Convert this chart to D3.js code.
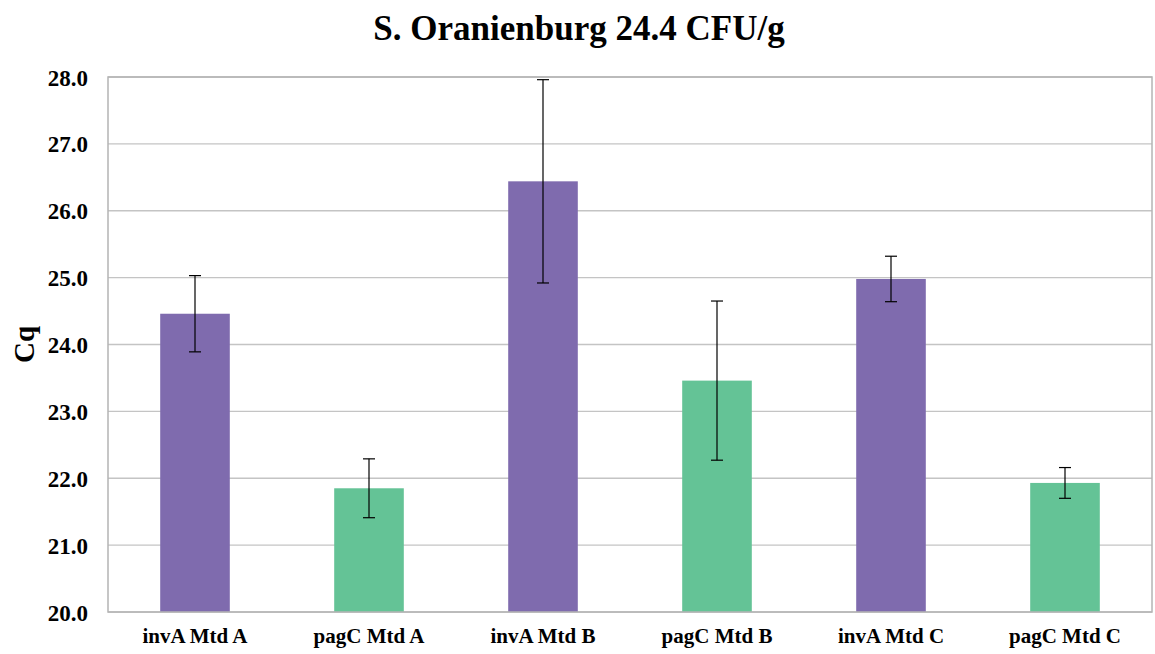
<!DOCTYPE html>
<html>
<head>
<meta charset="utf-8">
<script src="https://cdn.jsdelivr.net/npm/d3@7"></script>
<style>
  body { margin: 0; background: #fff; }
  text { font-family: "Liberation Serif", "Times New Roman", serif; font-weight: bold; fill: #000; }
</style>
</head>
<body>
<script>
const categories = ["invA Mtd A", "pagC Mtd A", "invA Mtd B", "pagC Mtd B", "invA Mtd C", "pagC Mtd C"];
const cqValues = [24.46, 21.85, 26.44, 23.46, 24.98, 21.93];
const cqErrors = [0.57, 0.44, 1.52, 1.19, 0.34, 0.23];
const yTicks = [20, 21, 22, 23, 24, 25, 26, 27, 28];
const barColors = ["#7F6BAE", "#64C396"];

const w = 1155, h = 654;
const margin = { left: 108, right: 3, top: 77, bottom: 42 };

const svg = d3.select("body").append("svg")
    .attr("width", w)
    .attr("height", h);

const xScale = d3.scaleBand()
    .domain(categories)
    .range([margin.left, w - margin.right])
    .paddingInner(0.6)
    .paddingOuter(0.3);

const yScale = d3.scaleLinear()
    .domain([20, 28])
    .range([h - margin.bottom, margin.top]);

// gridlines
svg.append("g")
    .selectAll("line")
    .data(yTicks)
    .enter()
    .append("line")
    .attr("x1", margin.left)
    .attr("x2", w - margin.right)
    .attr("y1", d => yScale(d))
    .attr("y2", d => yScale(d))
    .attr("stroke", "#c4c4c4")
    .attr("stroke-width", 1.3);

// bars
svg.append("g")
    .selectAll("rect")
    .data(cqValues)
    .enter()
    .append("rect")
    .attr("x", (d, i) => xScale(categories[i]))
    .attr("y", d => yScale(d))
    .attr("width", xScale.bandwidth())
    .attr("height", d => yScale(20) - yScale(d))
    .attr("fill", (d, i) => barColors[i % 2]);

// error bars
const err = svg.append("g")
    .selectAll("g")
    .data(cqValues)
    .enter()
    .append("g")
    .attr("stroke", "#000")
    .attr("stroke-width", 1.2);

const cx = (i) => xScale(categories[i]) + xScale.bandwidth() / 2;
err.append("line")
    .attr("x1", (d, i) => cx(i))
    .attr("x2", (d, i) => cx(i))
    .attr("y1", (d, i) => yScale(d + cqErrors[i]))
    .attr("y2", (d, i) => yScale(d - cqErrors[i]));
err.append("line")
    .attr("x1", (d, i) => cx(i) - 6)
    .attr("x2", (d, i) => cx(i) + 6)
    .attr("y1", (d, i) => yScale(d + cqErrors[i]))
    .attr("y2", (d, i) => yScale(d + cqErrors[i]));
err.append("line")
    .attr("x1", (d, i) => cx(i) - 6)
    .attr("x2", (d, i) => cx(i) + 6)
    .attr("y1", (d, i) => yScale(d - cqErrors[i]))
    .attr("y2", (d, i) => yScale(d - cqErrors[i]));

// plot border
svg.append("rect")
    .attr("x", margin.left)
    .attr("y", margin.top)
    .attr("width", w - margin.right - margin.left)
    .attr("height", yScale(20) - margin.top)
    .attr("fill", "none")
    .attr("stroke", "#b4b4b4")
    .attr("stroke-width", 1.5);

// y axis
const yAxis = d3.axisLeft(yScale)
    .tickValues(yTicks)
    .tickFormat(d3.format(".1f"))
    .tickSize(0)
    .tickPadding(20);
const yg = svg.append("g")
    .attr("transform", "translate(" + margin.left + ",0)")
    .call(yAxis);
yg.select(".domain").remove();
yg.selectAll("text")
    .style("font-size", "23px")
    .style("font-family", "Liberation Serif, serif")
    .style("font-weight", "bold")
    .attr("dy", "0.35em");

// x axis
const xAxis = d3.axisBottom(xScale).tickSize(0).tickPadding(16);
const xg = svg.append("g")
    .attr("transform", "translate(0," + yScale(20) + ")")
    .call(xAxis);
xg.select(".domain").remove();
xg.selectAll("text")
    .style("font-size", "21px")
    .style("font-family", "Liberation Serif, serif")
    .style("font-weight", "bold");

// title
svg.append("text")
    .attr("x", 579)
    .attr("y", 40)
    .attr("text-anchor", "middle")
    .style("font-size", "35px")
    .text("S. Oranienburg 24.4 CFU/g");

// y label
svg.append("text")
    .attr("transform", "translate(34," + ((margin.top + yScale(20)) / 2) + ") rotate(-90)")
    .attr("text-anchor", "middle")
    .style("font-size", "29px")
    .text("Cq");
</script>
</body>
</html>
